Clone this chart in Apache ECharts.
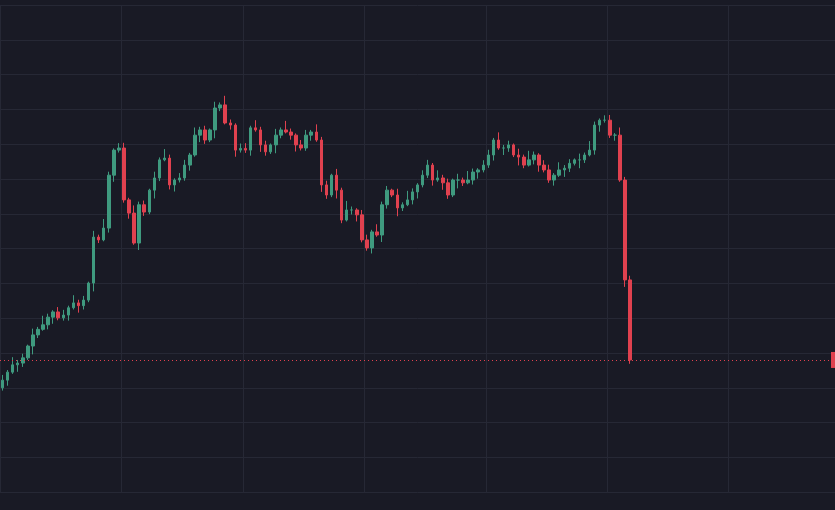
<!DOCTYPE html>
<html><head><meta charset="utf-8">
<script src="https://cdn.jsdelivr.net/npm/echarts@6/dist/echarts.min.js"></script>
<style>html,body{margin:0;background:#191a25}#c{width:835px;height:510px}</style>
</head><body><div id="c"></div>
<script>
const closes = [32.2,34.5,36.6,37.1,38.6,42.0,45.2,46.8,48.1,50.3,51.8,50.1,50.9,53.0,54.4,53.6,55.2,60.1,73.3,72.5,75.9,91.1,98.3,98.9,84.0,80.2,71.6,82.6,80.5,86.8,90.3,95.5,96.0,88.3,89.7,90.3,94.0,96.9,102.6,104.1,101.2,104.1,110.4,111.3,106.1,105.5,98.3,98.8,98.3,104.7,104.1,99.8,97.8,99.8,102.6,104.1,103.5,102.6,99.8,98.9,102.6,103.5,101.2,88.3,85.4,91.1,86.8,78.2,81.1,81.1,79.7,72.5,70.2,74.8,73.9,82.6,86.8,85.4,81.7,82.6,84.0,86.3,88.3,91.1,94.0,89.7,90.3,88.9,85.4,89.7,89.7,88.9,89.7,92.0,92.6,94.0,96.9,101.2,98.9,98.9,99.8,96.9,96.3,94.0,95.5,96.9,94.0,92.6,89.7,91.1,92.6,93.1,94.5,95.5,95.5,96.9,98.3,105.5,106.9,106.9,102.6,102.6,89.7,61.0,38.0];
const firstOpen = 30.0;
const wickUp = [1.5,0.6,2.2,0.9,1.2,0.4,1.8,0.7,2.6,1.0,0.5,1.4];
const wickDn = [0.8,1.6,0.5,2.0,1.1,0.6,2.4,0.9,0.4,1.3,1.9,0.7];
const lastPrice = 38.0;
const totalSlots = 165;

const cats = [], ohlc = [];
for (let i = 0; i < totalSlots; i++) {
  cats.push(String(i));
  if (i < closes.length) {
    const o = i === 0 ? firstOpen : closes[i - 1], c = closes[i];
    ohlc.push([o, c, Math.min(o, c) - wickDn[i % wickDn.length], Math.max(o, c) + wickUp[i % wickUp.length]]);
  } else ohlc.push('-');
}
const chart = echarts.init(document.getElementById('c'));
chart.setOption({
  backgroundColor: '#191a25',
  animation: false,
  grid: {left: 0, right: 0, top: 5, bottom: 17.8},
  xAxis: {type: 'category', data: cats, boundaryGap: true,
    axisLine: {show: false}, axisTick: {show: false}, axisLabel: {show: false},
    splitLine: {show: true, interval: 23, lineStyle: {color: '#262835'}}},
  yAxis: {type: 'value', min: 0, max: 140, interval: 10, position: 'right',
    axisLine: {show: false}, axisTick: {show: false}, axisLabel: {show: false},
    splitLine: {lineStyle: {color: '#262835'}}},
  series: [{type: 'candlestick', data: ohlc, barWidth: 3,
    itemStyle: {color: '#3f9a7f', color0: '#e0414f', borderColor: '#3f9a7f', borderColor0: '#e0414f', borderWidth: 1},
    markLine: {symbol: 'none', silent: true,
      lineStyle: {color: '#e0414f', type: [1, 3], width: 1},
      label: {position: 'end', formatter: '', backgroundColor: '#e0414f', padding: [8, 6], distance: -4},
      data: [{yAxis: lastPrice}]}}]
});
</script></body></html>
